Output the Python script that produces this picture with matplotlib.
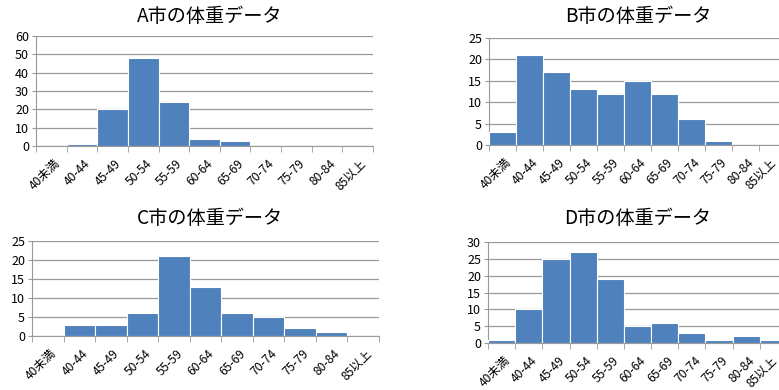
import numpy as np
import matplotlib
matplotlib.use("Agg")
from matplotlib import pyplot as plt
from matplotlib.transforms import ScaledTranslation

plt.rcParams['font.family'] = ['Noto Sans CJK JP', 'DejaVu Sans']

categories = ['40未満', '40-44', '45-49', '50-54', '55-59', '60-64',
              '65-69', '70-74', '75-79', '80-84', '85以上']
city_a = [0, 1, 20, 48, 24, 4, 3, 0, 0, 0, 0]
city_b = [3, 21, 17, 13, 12, 15, 12, 6, 1, 0, 0]
city_c = [0, 3, 3, 6, 21, 13, 6, 5, 2, 1, 0]
city_d = [1, 10, 25, 27, 19, 5, 6, 3, 1, 2, 1]

titles = ['A市の体重データ', 'B市の体重データ', 'C市の体重データ', 'D市の体重データ']
ymax = [60, 25, 25, 30]
ystep = [10, 5, 5, 5]

W, H = 779, 390
# axes boxes in pixels: left, top, right, bottom
boxes = [(36, 36, 373, 146), (489, 38, 786, 145),
         (32, 241, 379, 336), (488, 242, 787, 343)]
title_pos = [(210, 17), (638, 17), (210, 218), (638, 218)]

fig = plt.figure(figsize=(W / 100, H / 100), dpi=100)
x = np.arange(len(categories))

for vals, title, top, step, box, tp in zip(
        [city_a, city_b, city_c, city_d], titles, ymax, ystep, boxes, title_pos):
    l, t, r, b = box
    ax = fig.add_axes([l / W, 1 - b / H, (r - l) / W, (b - t) / H])
    ax.bar(x, vals, width=1.0, color='#4F81BD', edgecolor='white',
           linewidth=0.8, zorder=3)
    ax.set_xlim(-0.5, len(categories) - 0.5)
    ax.set_ylim(0, top)
    ax.set_yticks(np.arange(0, top + 1, step))
    ax.yaxis.grid(True, color='#9a9a9a', linewidth=0.9, zorder=0)
    ax.set_xticks([])
    ax.set_xticks(np.arange(-0.5, len(categories), 1), minor=True)
    ax.tick_params(axis='x', which='minor', length=4, color='#9a9a9a')
    ax.tick_params(axis='y', length=3, color='#9a9a9a', labelsize=9, pad=2)
    # rotated category labels, ending just right of each category centre
    for i, cat in enumerate(categories):
        dx = 2
        if r > W and i == len(categories) - 1:
            dx = -3  # right-hand charts run off the figure
        off = ScaledTranslation(dx / 100, -11 / 100, fig.dpi_scale_trans)
        ax.text(i, 0, cat, rotation=45, ha='right', va='top',
                rotation_mode='anchor', fontsize=8.7,
                transform=ax.get_xaxis_transform() + off)
    for s in ['top', 'right']:
        ax.spines[s].set_visible(False)
    for s in ['left', 'bottom']:
        ax.spines[s].set_color('#9a9a9a')
    fig.text(tp[0] / W, 1 - tp[1] / H, title, ha='center', va='center',
             fontsize=13.8)

fig.savefig('out.png', dpi=100)
